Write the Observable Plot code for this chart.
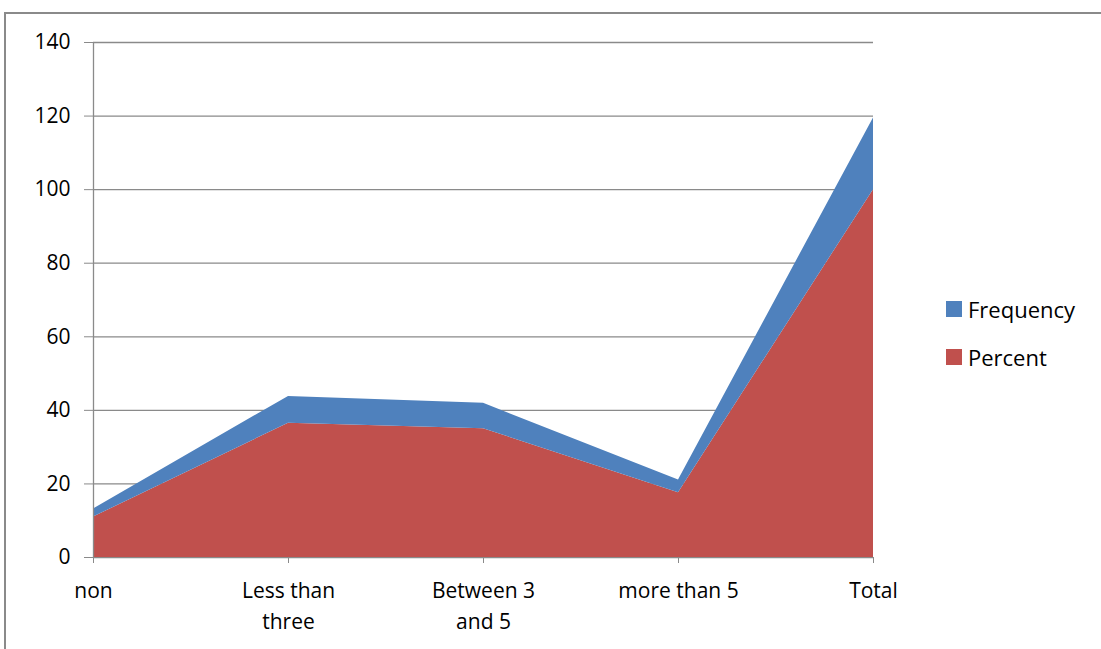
<!DOCTYPE html>
<html>
<head>
<meta charset="utf-8">
<script src="https://cdn.jsdelivr.net/npm/d3@7"></script>
<script src="https://cdn.jsdelivr.net/npm/@observablehq/plot@0.6"></script>
<style>
  html, body { margin: 0; padding: 0; background: #fff; }
  #wrap { position: relative; width: 1101px; height: 649px; overflow: hidden; font-family: "Open Sans", sans-serif; }
  #frame { position: absolute; left: 4px; top: 12px; width: 1120px; height: 660px; border: 2px solid #8a8a8a; box-sizing: border-box; }
  #chart { position: absolute; left: 0; top: 0; }
  .leg { position: absolute; left: 946px; font-size: 22px; color: #000; display: flex; align-items: center; white-space: nowrap; }
  .leg span.sw { display: inline-block; width: 16px; height: 16px; margin-right: 6px; }
</style>
</head>
<body>
<div id="wrap">
  <div id="frame"></div>
  <div id="chart"></div>
  <div class="leg" style="top:294px"><span class="sw" style="background:#4F81BD"></span>Frequency</div>
  <div class="leg" style="top:342px"><span class="sw" style="background:#C0504D"></span>Percent</div>
</div>
<script>
const categories = ["non", "Less than three", "Between 3 and 5", "more than 5", "Total"];
const tickLabels = ["non", "Less than\nthree", "Between 3\nand 5", "more than 5", "Total"];
const percent = [11, 36.5, 35, 17.6, 100];
const frequency = [2.2, 7.3, 6.9, 3.5, 19.5];
const yTicks = [0, 20, 40, 60, 80, 100, 120, 140];

const rows = [];
categories.forEach((c, i) => rows.push({cat: c, series: "Percent", value: percent[i]}));
categories.forEach((c, i) => rows.push({cat: c, series: "Frequency", value: frequency[i]}));

const chart = Plot.plot({
  width: 1101,
  height: 649,
  marginLeft: 93,
  marginRight: 228,
  marginTop: 42,
  marginBottom: 92,
  style: {fontFamily: "'Open Sans', sans-serif", fontSize: "21px", color: "#000", background: "transparent"},
  x: {type: "point", domain: categories, padding: 0},
  y: {domain: [0, 140]},
  color: {domain: ["Frequency", "Percent"], range: ["#4F81BD", "#C0504D"]},
  marks: [
    Plot.ruleY(yTicks, {stroke: "#8a8a8a", strokeWidth: 1.3, strokeOpacity: 1}),
    Plot.areaY(rows, {x: "cat", y: "value", z: "series", fill: "series", fillOpacity: 1, order: ["Percent", "Frequency"]}),
    Plot.ruleX([categories[0]], {stroke: "#8a8a8a", strokeWidth: 1.3}),
    Plot.axisY({ticks: yTicks, tickSize: 9, tickPadding: 14, stroke: "#8a8a8a", fill: "#000", label: null}),
    Plot.axisX({tickSize: 6, tickPadding: 12, stroke: "#8a8a8a", fill: "#000", label: null, lineHeight: 1.5,
      tickFormat: d => tickLabels[categories.indexOf(d)]})
  ]
});
document.getElementById("chart").appendChild(chart);
</script>
</body>
</html>
